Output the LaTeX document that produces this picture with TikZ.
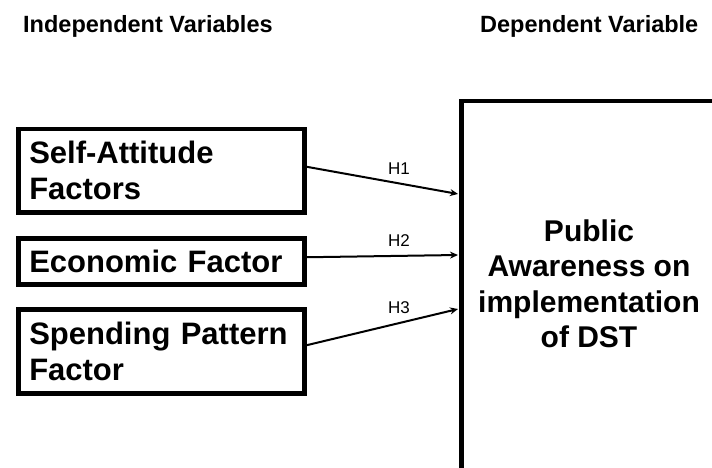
\documentclass[tikz,border=0pt]{standalone}
\usepackage{fontspec}
\setmainfont{Liberation Sans}
\usetikzlibrary{arrows.meta}

\begin{document}
\begin{tikzpicture}[
        x=1pt, y=-1pt,
        factor/.style={draw, line width=4.5pt, rectangle, anchor=north west,
            minimum width=286pt, text width=264pt, inner xsep=11pt, inner ysep=0pt,
            align=left, font=\fontsize{31}{36}\selectfont\bfseries},
        heading/.style={anchor=base west, inner sep=0pt, font=\fontsize{23.5}{27}\selectfont\bfseries},
        link/.style={line width=2pt, -{Stealth[length=8pt, width=7pt]}},
        hyp/.style={above=7pt, inner sep=1pt, font=\fontsize{17}{20}\selectfont},
    ]
        \useasboundingbox (0,0) rectangle (712,468);
        \clip (0,0) rectangle (712,468);

        \node[heading] (ivhead) at (23,33) {Independent Variables};
        \node[heading] (dvhead) at (480,33) {Dependent Variable};

        \node[factor, minimum height=83pt] (selfatt) at (16,127) {Self-Attitude\\Factors};
        \node[factor, minimum height=46pt] (econ) at (16,236) {Economic Factor};
        \node[factor, minimum height=84pt] (spend) at (16,307) {Spending Pattern\\Factor};

        \node[draw, line width=4.5pt, anchor=north west, minimum width=400pt, minimum height=500pt] (dv) at (459,99) {};
        \node[align=center, font=\fontsize{30}{35.5}\selectfont\bfseries] (dvtext) at (589,284)
            {Public\\Awareness on\\implementation\\of DST};

        \coordinate (h1) at (458,194);
        \coordinate (h2) at (458,255);
        \coordinate (h3) at (458,309);

        \draw[link] ([yshift=4pt]selfatt.east) -- (h1) node[hyp, pos=0.61] {H1};
        \draw[link] ([yshift=4pt]econ.east) -- (h2) node[hyp, pos=0.61] {H2};
        \draw[link] ([yshift=6pt]spend.east) -- (h3) node[hyp, pos=0.61] {H3};
    \end{tikzpicture}
\end{document}
